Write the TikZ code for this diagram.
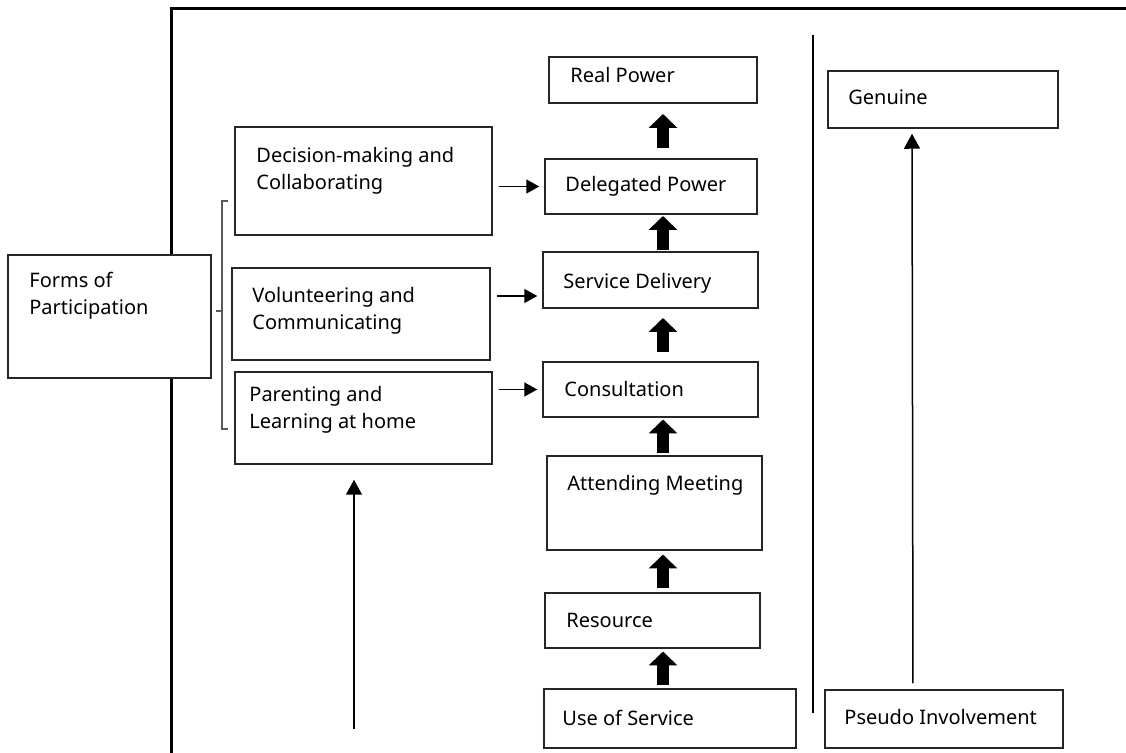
\documentclass[tikz,border=0pt]{standalone}
\usepackage{fontspec}
\setmainfont{Noto Sans}
\usetikzlibrary{arrows.meta, calc, fit}

\begin{document}
\begin{tikzpicture}[
    x=0.5pt, y=-0.5pt,
    % Rahmen der Kästen
    box/.style={draw=black!85, line width=0.75pt, fill=white, inner sep=0pt},
    % Beschriftung, linksbündig oben im Kasten
    lbl/.style={anchor=west, inner sep=0pt, align=left, font=\fontsize{10}{13.5}\selectfont},
    % dicke Pfeile der Leiter
    up/.style={line width=6pt, -{Triangle[length=7pt, width=14pt]}},
    % dünne Pfeile
    link/.style={line width=0.75pt, -{Triangle[length=6.5pt, width=7pt]}},
    tall/.style={line width=0.75pt, -{Triangle[length=7.5pt, width=8pt]}}
]
\useasboundingbox (0,0) rectangle (1126,753);

% --- Rahmen und Trennlinie ---
\draw[line width=1.5pt] (171,760) -- (171,9) -- (1130,9);
\draw[line width=0.75pt] (813,35) -- (813,713);

% --- Leiter in der Mitte ---
\node[box, fit={(549,57) (757,103)}] (real) {};
\node[box, fit={(545,159) (757,214)}] (del) {};
\node[box, fit={(543,252) (758,308)}] (serv) {};
\node[box, fit={(543,362) (758,417)}] (cons) {};
\node[box, fit={(547,456) (762,550)}] (att) {};
\node[box, fit={(545,593) (760,648)}] (res) {};
\node[box, fit={(544,689) (796,748)}] (use) {};

\node[lbl] (realtxt) at (570,75) {Real Power};
\node[lbl] (deltxt) at (565,186) {Delegated Power};
\node[lbl] (servtxt) at (563,283) {Service Delivery};
\node[lbl] (constxt) at (564,389) {Consultation};
\node[lbl] (atttxt) at (567,485) {Attending Meeting};
\node[lbl] (restxt) at (566,620) {Resource};
\node[lbl] (usetxt) at (562,718) {Use of Service};

\coordinate (ax) at (663,0);
\foreach \lo/\hi in {del/real, serv/del, cons/serv, att/cons, res/att, use/res}{
    \coordinate (m) at ($(\lo.north)!.5!(\hi.south)$);
    \coordinate (mx) at (m -| ax);
    \draw[up] ($(mx)+(0,17)$) -- ++(0,-34);
}

% --- Formen der Beteiligung (links) ---
\node[box, fit={(8,255) (211,378)}] (forms) {};
\node[lbl] (formstxt) at (29,296) {Forms of\\Participation};

\node[box, fit={(235,127) (492,235)}] (dec) {};
\node[box, fit={(232,268) (490,360)}] (vol) {};
\node[box, fit={(235,372) (492,464)}] (par) {};
\node[lbl] (dectxt) at (256,171) {Decision-making and\\Collaborating};
\node[lbl] (voltxt) at (252,311) {Volunteering and\\Communicating};
\node[lbl] (partxt) at (249,410) {Parenting and\\Learning at home};

% Klammer
\draw[gray!70!black, line width=0.6pt] (228,201) -| (222,429) -- (228,429)
    (222,311) -- (216,311);

\coordinate (vs) at ([yshift=-8pt]serv.west);
\draw[link, shorten <=3pt, shorten >=2.5pt] (dec.east |- del.west) -- (del.west);
\draw[link, shorten <=3pt, shorten >=2.5pt] (vol.east |- vs) -- (vs);
\draw[link, shorten <=3pt, shorten >=2.5pt] (par.east |- cons.west) -- (cons.west);

\coordinate (pfoot) at (354,729);
\draw[tall, shorten >=7.5pt] (pfoot) -- (pfoot |- par.south);

% --- rechte Spalte ---
\node[box, fit={(828,71) (1058,128)}] (gen) {};
\node[box, fit={(825,690) (1063,748)}] (pseudo) {};
\node[lbl] (gentxt) at (848,97) {Genuine};
\node[lbl] (pseudotxt) at (844,717) {Pseudo Involvement};

\draw[tall, shorten <=3pt, shorten >=2.5pt] ([xshift=-15.5pt]pseudo.north) -- ([xshift=-15.5pt]gen.south);

\end{tikzpicture}
\end{document}
